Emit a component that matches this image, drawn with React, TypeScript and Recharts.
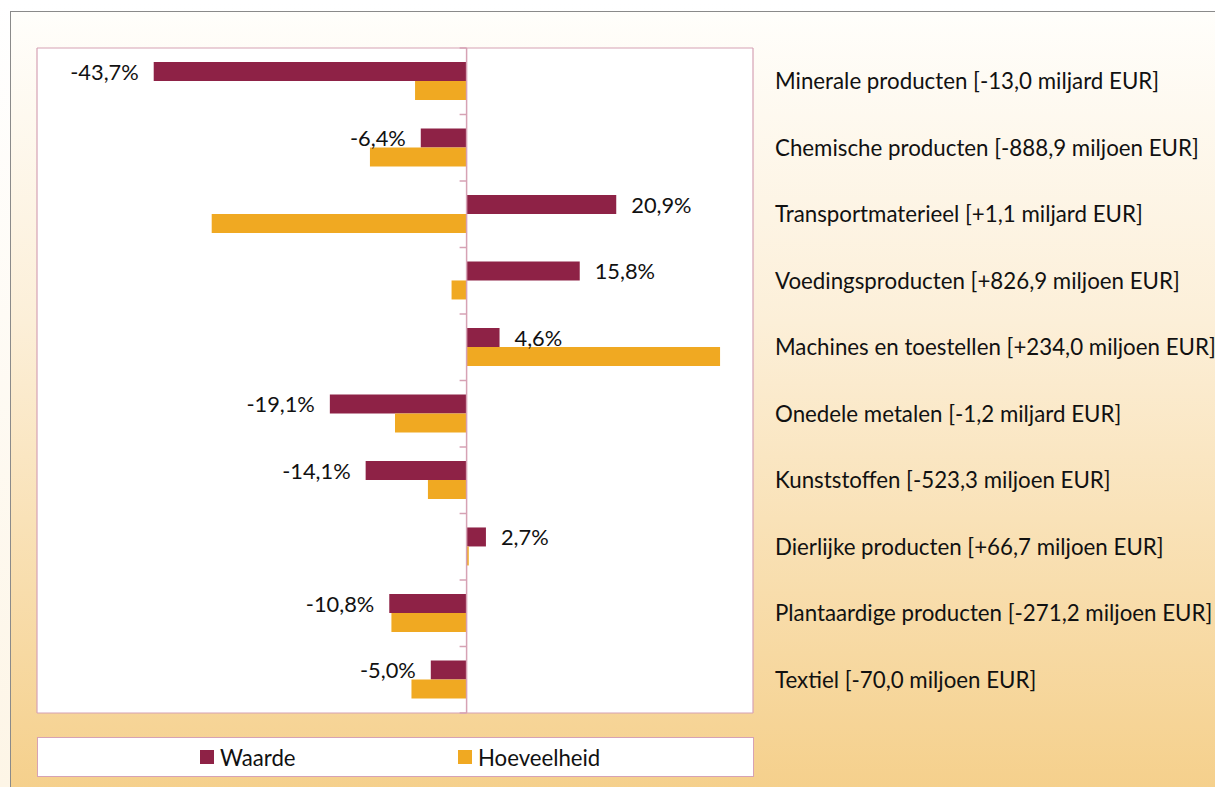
import React from "react";
import {
  BarChart,
  Bar,
  XAxis,
  YAxis,
  CartesianGrid,
  ReferenceLine,
  LabelList,
  Legend,
} from "recharts";

const categories = [
  "Minerale producten",
  "Chemische producten",
  "Transportmaterieel",
  "Voedingsproducten",
  "Machines en toestellen",
  "Onedele metalen",
  "Kunststoffen",
  "Dierlijke producten",
  "Plantaardige producten",
  "Textiel",
];

const amounts = [
  "-13,0 miljard EUR",
  "-888,9 miljoen EUR",
  "+1,1 miljard EUR",
  "+826,9 miljoen EUR",
  "+234,0 miljoen EUR",
  "-1,2 miljard EUR",
  "-523,3 miljoen EUR",
  "+66,7 miljoen EUR",
  "-271,2 miljoen EUR",
  "-70,0 miljoen EUR",
];

const waarde = [-43.7, -6.4, 20.9, 15.8, 4.6, -19.1, -14.1, 2.7, -10.8, -5.0];
const hoeveelheid = [-7.2, -13.5, -35.6, -2.1, 35.4, -10.0, -5.4, 0.3, -10.5, -7.7];

const WAARDE_COLOR = "#8E2246";
const HOEVEEL_COLOR = "#F0A922";
const AXIS_PINK = "#D6A2B4";
const FONT = "Lato, 'Noto Sans', sans-serif";

const rows = categories.map((name, i) => ({
  label: `${name} [${amounts[i]}]`,
  waarde: waarde[i],
  hoeveelheid: hoeveelheid[i],
}));

function formatPct(v: number) {
  return `${v.toFixed(1).replace(".", ",")}%`;
}

function ValueLabel(props: any) {
  const box = props.viewBox ?? props;
  const x = Number(box.x);
  const y = Number(box.y);
  const w = Number(box.width);
  const h = Number(box.height);
  const value = Number(props.value);
  const left = Math.min(x, x + w);
  const right = Math.max(x, x + w);
  const neg = value < 0;
  return (
    <text
      x={neg ? left - 15 : right + 15}
      y={y + h / 2}
      dy="0.38em"
      textAnchor={neg ? "end" : "start"}
      fontFamily={FONT}
      fontSize={21.8}
      fill="#111"
    >
      {formatPct(value)}
    </text>
  );
}

// zero line with small ticks at the category boundaries
function ZeroAxis(props: any) {
  const { x1, y1, x2, y2 } = props;
  const top = Math.min(y1, y2);
  const bottom = Math.max(y1, y2);
  const step = (bottom - top) / categories.length;
  return (
    <g>
      <line x1={x1} y1={y1} x2={x2} y2={y2} stroke={AXIS_PINK} strokeWidth={1.5} />
      {Array.from({ length: categories.length + 1 }, (_, i) => (
        <line
          key={i}
          x1={x1 - 7}
          x2={x1}
          y1={top + i * step}
          y2={top + i * step}
          stroke={AXIS_PINK}
          strokeWidth={1.5}
        />
      ))}
    </g>
  );
}

function LegendBox() {
  const item = (color: string, text: string, width: number) => (
    <div style={{ display: "flex", alignItems: "center", width }}>
      <span style={{ width: 14, height: 14, background: color, marginRight: 6 }} />
      <span>{text}</span>
    </div>
  );
  return (
    <div
      style={{
        boxSizing: "border-box",
        width: 717,
        height: 40,
        border: `1px solid ${AXIS_PINK}`,
        background: "#fff",
        display: "flex",
        alignItems: "center",
        paddingLeft: 162,
        fontFamily: FONT,
        fontSize: 22.2,
        color: "#111",
      }}
    >
      {item(WAARDE_COLOR, "Waarde", 258)}
      {item(HOEVEEL_COLOR, "Hoeveelheid", 200)}
    </div>
  );
}

export default function App() {
  return (
    <div
      style={{
        position: "fixed",
        left: 0,
        top: 0,
        width: 1215,
        height: 787,
        overflow: "hidden",
        background: "linear-gradient(to bottom, #ffffff, #fdf5e6)",
      }}
    >
      <style>{"body{margin:0;overflow:hidden}"}</style>
      <div
        style={{
          position: "absolute",
          left: 10,
          top: 11,
          width: 1205,
          height: 776,
          borderLeft: "1.5px solid #8a8a8a",
          borderTop: "1.5px solid #8a8a8a",
          background: "linear-gradient(to bottom, #fffefb 0%, #fcefd8 40%, #f5d08c 100%)",
        }}
      />
      <div style={{ position: "absolute", left: 0, top: 0 }}>
        <BarChart
          width={1215}
          height={787}
          data={rows}
          layout="vertical"
          margin={{ top: 48, right: 0, bottom: 74, left: 37 }}
          barCategoryGap="21%"
          barGap={0}
        >
          <CartesianGrid
            fill="#fff"
            stroke={AXIS_PINK}
            strokeWidth={1.2}
            horizontalCoordinatesGenerator={({ offset }: any) => [
              offset.top,
              offset.top + offset.height,
            ]}
            verticalCoordinatesGenerator={({ offset }: any) => [
              offset.left,
              offset.left + offset.width,
            ]}
          />
          <XAxis type="number" domain={[-60, 40]} hide />
          <YAxis
            type="category"
            dataKey="label"
            orientation="right"
            width={462}
            axisLine={false}
            tickLine={false}
            tickSize={0}
            tickMargin={22}
            interval={0}
            tick={{ fontFamily: FONT, fontSize: 22.3, fill: "#111", textAnchor: "start" }}
          />
          <Bar dataKey="waarde" name="Waarde" fill={WAARDE_COLOR} isAnimationActive={false}>
            <LabelList dataKey="waarde" content={<ValueLabel />} />
          </Bar>
          <Bar dataKey="hoeveelheid" name="Hoeveelheid" fill={HOEVEEL_COLOR} isAnimationActive={false} />
          <ReferenceLine x={0} stroke={AXIS_PINK} shape={(p: any) => <ZeroAxis {...p} />} />
          <Legend
            layout="horizontal"
            verticalAlign="middle"
            align="center"
            wrapperStyle={{ top: 737, left: 37, width: 717, height: 40 }}
            content={() => <LegendBox />}
          />
        </BarChart>
      </div>
    </div>
  );
}
